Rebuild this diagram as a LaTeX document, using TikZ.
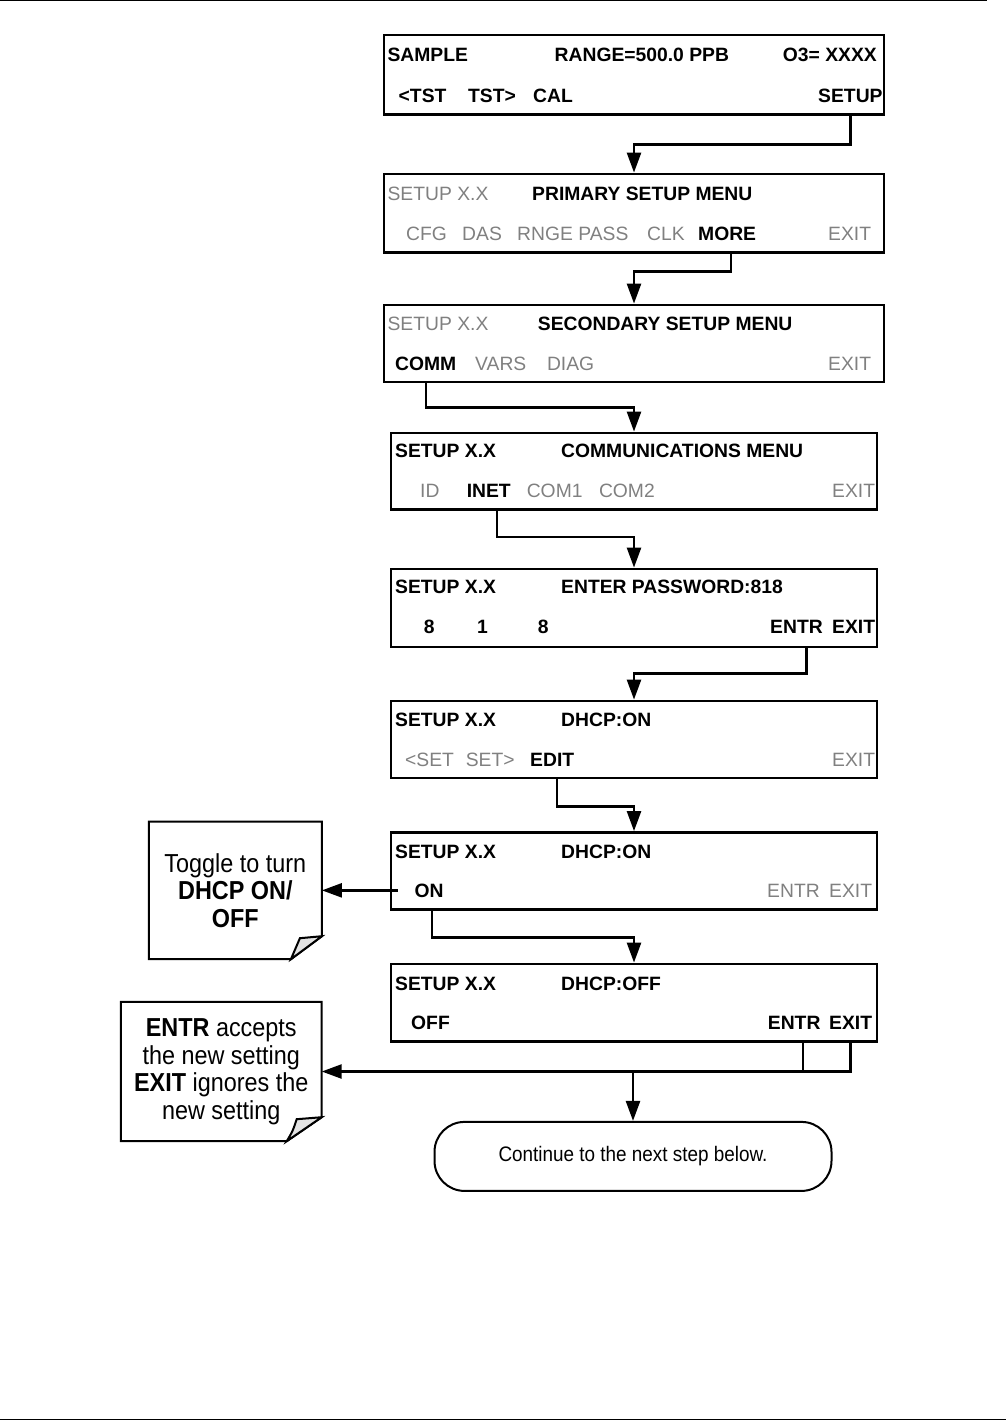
\documentclass[tikz,border=0pt]{standalone}
\usepackage{fontspec}
\setmainfont{Liberation Sans}
\newfontfamily\narrowfont[FakeStretch=0.9]{Liberation Sans}
\usetikzlibrary{arrows.meta}
\definecolor{lcdgray}{RGB}{128,128,128}
\begin{document}
\begin{tikzpicture}[x=1pt,y=-1pt,
  lcd/.style={draw, line width=2.8pt, inner sep=0pt, minimum width=500pt},
  lcdn/.style={lcd, minimum width=486pt},
  bt/.style={inner sep=0pt, anchor=base west, font=\fontsize{19.3}{23}\selectfont\bfseries},
  gt/.style={inner sep=0pt, anchor=base west, font=\fontsize{19.3}{23}\selectfont, text=lcdgray},
  arr/.style={line width=2.5pt, line join=miter, -{Triangle[length=20pt,width=14pt]}},
  conn/.style={line width=2.5pt, line join=miter},
  notebox/.style={inner sep=0pt, align=center, font=\narrowfont\fontsize{26}{27.5}\selectfont},
  noteline/.style={line width=2pt, line join=miter},
  termbox/.style={draw, line width=2pt, rounded corners=30pt, inner sep=0pt, font=\narrowfont\fontsize{21}{24}\selectfont}
]
\useasboundingbox (0,0) rectangle (1006,1421);
% page rules
\draw[line width=1.5pt] (0,0.75) -- (987,0.75);
\draw[line width=1.5pt] (0,1419.5) -- (1006,1419.5);

% boxes
\node[lcd, minimum height=79.5pt] (b1) at (634,74.75) {};
\node[lcd, minimum height=78.5pt] (b2) at (634,213.25) {};
\node[lcd, minimum height=77pt] (b3) at (634,343.5) {};
\node[lcdn, minimum height=76.5pt] (b4) at (634,471.25) {};
\node[lcdn, minimum height=78pt] (b5) at (634,608) {};
\node[lcdn, minimum height=77pt] (b6) at (634,739.5) {};
\node[lcdn, minimum height=77pt] (b7) at (634,871) {};
\node[lcdn, minimum height=77.5pt] (b8) at (634,1002.75) {};

% box 1
\node[bt] (t1a) at (387.4,62) {SAMPLE};
\node[bt] (t1b) at (554.5,62) {RANGE=500.0 PPB};
\node[bt] (t1c) at (782.7,62) {O3= XXXX};
\node[bt] (t1d) at (398.5,102) {<TST};
\node[bt] (t1e) at (468,102) {TST>};
\node[bt] (t1f) at (533,102) {CAL};
\node[bt] (setup) at (818,102) {SETUP};
% box 2
\node[gt] (t2a) at (387.4,200) {SETUP X.X};
\node[bt] (t2b) at (532,200) {PRIMARY SETUP MENU};
\node[gt] (t2c) at (406,240) {CFG};
\node[gt] (t2d) at (462,240) {DAS};
\node[gt] (t2e) at (517,240) {RNGE PASS};
\node[gt] (t2f) at (647,240) {CLK};
\node[bt] (more) at (698,240) {MORE};
\node[gt] (t2g) at (828,240) {EXIT};
% box 3
\node[gt] (t3a) at (387.4,330) {SETUP X.X};
\node[bt] (t3b) at (537.7,330) {SECONDARY SETUP MENU};
\node[bt] (comm) at (395,370) {COMM};
\node[gt] (t3c) at (475,370) {VARS};
\node[gt] (t3d) at (546.8,370) {DIAG};
\node[gt] (t3e) at (828,370) {EXIT};
% box 4
\node[bt] (t4a) at (395,457) {SETUP X.X};
\node[bt] (t4b) at (561,457) {COMMUNICATIONS MENU};
\node[gt] (t4c) at (420,497) {ID};
\node[bt] (inet) at (466.6,497) {INET};
\node[gt] (t4d) at (526.6,497) {COM1};
\node[gt] (t4e) at (598.8,497) {COM2};
\node[gt] (t4f) at (832,497) {EXIT};
% box 5
\node[bt] (t5a) at (395,593) {SETUP X.X};
\node[bt] (t5b) at (561,593) {ENTER PASSWORD:818};
\node[bt] (t5c) at (423.6,633) {8};
\node[bt] (t5d) at (477,633) {1};
\node[bt] (t5e) at (537.7,633) {8};
\node[bt] (entr5) at (770,633) {ENTR};
\node[bt] (t5f) at (832,633) {EXIT};
% box 6
\node[bt] (t6a) at (395,726) {SETUP X.X};
\node[bt] (t6b) at (561,726) {DHCP:ON};
\node[gt] (t6c) at (405,766) {<SET};
\node[gt] (t6d) at (465.6,766) {SET>};
\node[bt] (edit) at (530,766) {EDIT};
\node[gt] (t6e) at (832,766) {EXIT};
% box 7
\node[bt] (t7a) at (395,858) {SETUP X.X};
\node[bt] (t7b) at (561,858) {DHCP:ON};
\node[bt] (on) at (414.5,897) {ON};
\node[gt] (t7c) at (767,897) {ENTR};
\node[gt] (t7d) at (829,897) {EXIT};
% box 8
\node[bt] (t8a) at (395,990) {SETUP X.X};
\node[bt] (t8b) at (561,990) {DHCP:OFF};
\node[bt] (t8c) at (411,1029) {OFF};
\node[bt] (entr8) at (767.7,1029) {ENTR};
\node[bt] (exit8) at (829,1029) {EXIT};

% notes
\node[notebox, minimum width=172.7pt, minimum height=137.3pt] (note1) at (235.35,890.35)
  {Toggle to turn\\\textbf{DHCP ON/}\\\textbf{OFF}};
\draw[noteline] (note1.north west) -- (note1.north east) -- ([yshift=23pt]note1.south east)
  -- ([xshift=-31pt]note1.south east) -- (note1.south west) -- cycle;
\draw[noteline, fill=gray!22] ([yshift=23pt]note1.south east) -- ([xshift=-22pt,yshift=21pt]note1.south east)
  .. controls ([xshift=-26pt,yshift=10pt]note1.south east) .. ([xshift=-31pt]note1.south east) -- cycle;

\node[notebox, minimum width=200.5pt, minimum height=139pt] (note2) at (221.25,1071.5)
  {\textbf{ENTR} accepts\\the new setting\\\textbf{EXIT} ignores the\\new setting};
\draw[noteline] (note2.north west) -- (note2.north east) -- ([yshift=24pt]note2.south east)
  -- ([xshift=-35pt]note2.south east) -- (note2.south west) -- cycle;
\draw[noteline, fill=gray!22] ([yshift=24pt]note2.south east) -- ([xshift=-25pt,yshift=22pt]note2.south east)
  .. controls ([xshift=-29pt,yshift=10pt]note2.south east) .. ([xshift=-35pt]note2.south east) -- cycle;

% terminal
\node[termbox, minimum width=397pt, minimum height=69pt] (term) at (633,1156.4) {Continue to the next step below.};

% connectors
\draw[arr] (setup.south |- b1.south) -- ++(0,28.5) -| (b2.north);
\draw[arr] ([xshift=4pt]more.south |- b2.south) -- ++(0,17.5) -| (b3.north);
\draw[arr] (comm.south |- b3.south) -- ++(0,24) -| (b4.north);
\draw[arr] ([xshift=8pt]inet.south |- b4.south) -- ++(0,26) -| (b5.north);
\draw[arr] ([xshift=10pt]entr5.south |- b5.south) -- ++(0,25) -| (b6.north);
\draw[arr] ([xshift=5pt]edit.south |- b6.south) -- ++(0,27) -| (b7.north);
\draw[arr] ([xshift=3pt]on.south |- b7.south) -- ++(0,26.5) -| (b8.north);
\draw[arr] ([xshift=8pt]b7.west |- note1.east) -- (note1.east);
\draw[conn] ([xshift=9pt]entr8.south |- b8.south) -- ([xshift=9pt]entr8.south |- note2.east);
\draw[arr] (exit8.south |- b8.south) -- (exit8.south |- note2.east) -- (note2.east);
\draw[arr] (term.north |- note2.east) -- (term.north);
\end{tikzpicture}
\end{document}
